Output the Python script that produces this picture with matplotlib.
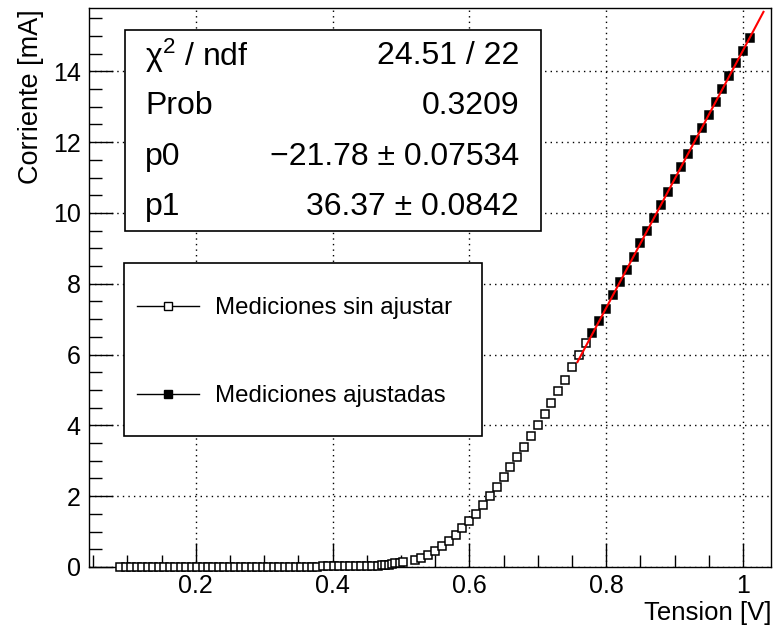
import matplotlib
matplotlib.use("Agg")
import matplotlib.pyplot as plt
from matplotlib.lines import Line2D
from matplotlib.patches import Rectangle

plt.rcParams['font.family'] = ['Liberation Sans', 'DejaVu Sans']
plt.rcParams['mathtext.fontset'] = 'custom'
plt.rcParams['mathtext.rm'] = 'Liberation Sans'
plt.rcParams['mathtext.it'] = 'Liberation Sans:italic'

# --- data ---
v_open = [0.090, 0.098, 0.106, 0.114, 0.122, 0.130, 0.138, 0.146, 0.154, 0.162,
          0.170, 0.178, 0.186, 0.194, 0.202, 0.210, 0.218, 0.226, 0.234, 0.242,
          0.250, 0.258, 0.266, 0.274, 0.282, 0.290, 0.298, 0.306, 0.314, 0.322,
          0.330, 0.338, 0.346, 0.354, 0.362, 0.370, 0.378, 0.386, 0.394, 0.402,
          0.410, 0.418, 0.426, 0.434, 0.442, 0.450, 0.458, 0.466, 0.472, 0.477,
          0.482, 0.487, 0.492, 0.498, 0.503, 0.520, 0.530, 0.540, 0.550, 0.560,
          0.570, 0.580, 0.590, 0.600, 0.610, 0.620, 0.630, 0.640, 0.650, 0.660,
          0.670, 0.680, 0.690, 0.700, 0.710, 0.720, 0.730, 0.740, 0.750, 0.760,
          0.770]
i_open = [0.00, 0.00, 0.00, 0.00, 0.00, 0.00, 0.00, 0.00, 0.00, 0.00,
          0.00, 0.00, 0.00, 0.00, 0.00, 0.00, 0.00, 0.00, 0.00, 0.00,
          0.00, 0.00, 0.00, 0.00, 0.00, 0.00, 0.00, 0.00, 0.00, 0.00,
          0.00, 0.00, 0.00, 0.00, 0.00, 0.00, 0.00, 0.03, 0.03, 0.03,
          0.03, 0.03, 0.03, 0.03, 0.03, 0.03, 0.03, 0.03, 0.05, 0.06,
          0.07, 0.08, 0.10, 0.12, 0.14, 0.19, 0.26, 0.35, 0.45, 0.58,
          0.73, 0.90, 1.09, 1.29, 1.51, 1.75, 2.00, 2.25, 2.53, 2.82,
          3.12, 3.40, 3.71, 4.01, 4.32, 4.64, 4.97, 5.28, 5.64, 5.99,
          6.34]

v_fit = [0.78, 0.79, 0.80, 0.81, 0.82, 0.83, 0.84, 0.85, 0.86, 0.87, 0.88, 0.89,
         0.90, 0.91, 0.92, 0.93, 0.94, 0.95, 0.96, 0.97, 0.98, 0.99, 1.00, 1.01]
i_fit = [6.62, 6.94, 7.30, 7.69, 8.05, 8.40, 8.77, 9.15, 9.49, 9.86, 10.23, 10.58,
         10.96, 11.31, 11.67, 12.05, 12.41, 12.76, 13.14, 13.50, 13.86, 14.23, 14.58, 14.95]

p0 = -21.78
p1 = 36.37
fit_range = [0.758, 1.030]

stats_labels = [r"$\mathregular{χ^{2}}$ / ndf", "Prob", "p0", "p1"]
stats_values = ["24.51 / 22", "0.3209", "−21.78 ± 0.07534", "36.37 ± 0.0842"]
legend_labels = ["Mediciones sin ajustar", "Mediciones ajustadas"]

W, H = 783, 626
fig = plt.figure(figsize=(W / 100, H / 100), dpi=100)
ax = fig.add_axes([89 / W, 1 - 567 / H, (771 - 89) / W, (567 - 8) / H])

ax.set_xlim(0.044, 1.041)
ax.set_ylim(0.0, 15.79)

ax.plot(v_open, i_open, linestyle='none', marker='s', markersize=6.0,
        markerfacecolor='white', markeredgecolor='black', markeredgewidth=1.1,
        clip_on=False, zorder=3)
ax.plot(v_fit, i_fit, linestyle='none', marker='s', markersize=6.0,
        markerfacecolor='black', markeredgecolor='black', markeredgewidth=1.1,
        clip_on=False, zorder=3)
ax.plot(fit_range, [p0 + p1 * fit_range[0], p0 + p1 * fit_range[1]],
        color='red', linewidth=1.5, zorder=4)

ax.set_xticks([0.2, 0.4, 0.6, 0.8, 1.0])
ax.set_xticklabels(["0.2", "0.4", "0.6", "0.8", "1"])
ax.set_xticks([0.05 * k for k in range(1, 21) if k % 4 != 0], minor=True)
ax.set_yticks([0, 2, 4, 6, 8, 10, 12, 14])
ax.set_yticks([0.5 * k for k in range(1, 32) if k % 4 != 0], minor=True)

ax.tick_params(which='both', direction='in', top=False, right=False, width=1.0,
               labelsize=18, colors='black')
ax.tick_params(which='major', length=17)
ax.tick_params(which='minor', length=9)
ax.tick_params(axis='x', which='major', pad=5)
ax.tick_params(axis='y', which='major', pad=6)
for s in ax.spines.values():
    s.set_linewidth(1.0)

ax.grid(True, which='major', linestyle=(0, (1, 3)), color='black', linewidth=1.0)
ax.set_axisbelow(True)

ax.set_xlabel("Tension [V]", loc='right', fontsize=18.5, labelpad=2)


def fx(px):
    return px / W


def fy(py):
    return 1 - py / H


fig.text(fx(31), fy(9), "Corriente [mA]", rotation=90, ha='center', va='top',
         fontsize=19.5)

# --- statistics box ---
fig.patches.append(Rectangle((fx(125), fy(231)), fx(541) - fx(125), fy(30) - fy(231),
                             transform=fig.transFigure, facecolor='white',
                             edgecolor='black', linewidth=1.2, zorder=5))
rows_y = [56, 106, 157, 207]
for lab, val, ry in zip(stats_labels, stats_values, rows_y):
    fig.text(fx(145), fy(ry), lab, fontsize=23, ha='left', va='center', zorder=6)
    fig.text(fx(519), fy(ry), val, fontsize=23, ha='right', va='center', zorder=6)

# --- legend box ---
fig.patches.append(Rectangle((fx(124), fy(436)), fx(482) - fx(124), fy(263) - fy(436),
                             transform=fig.transFigure, facecolor='white',
                             edgecolor='black', linewidth=1.2, zorder=5))
handles = [
    Line2D([], [], color='black', linewidth=1.0, marker='s', markersize=6.0,
           markerfacecolor='white', markeredgecolor='black'),
    Line2D([], [], color='black', linewidth=1.0, marker='s', markersize=6.0,
           markerfacecolor='black', markeredgecolor='black'),
]
leg = fig.legend(handles, legend_labels, loc='upper left',
                 bbox_to_anchor=(fx(137), fy(297)),
                 fontsize=17.3, frameon=False, borderpad=0.0, labelspacing=2.75,
                 handlelength=2.6, handletextpad=0.65, borderaxespad=0.0)
leg.set_zorder(6)

fig.savefig("out.png", dpi=100)
